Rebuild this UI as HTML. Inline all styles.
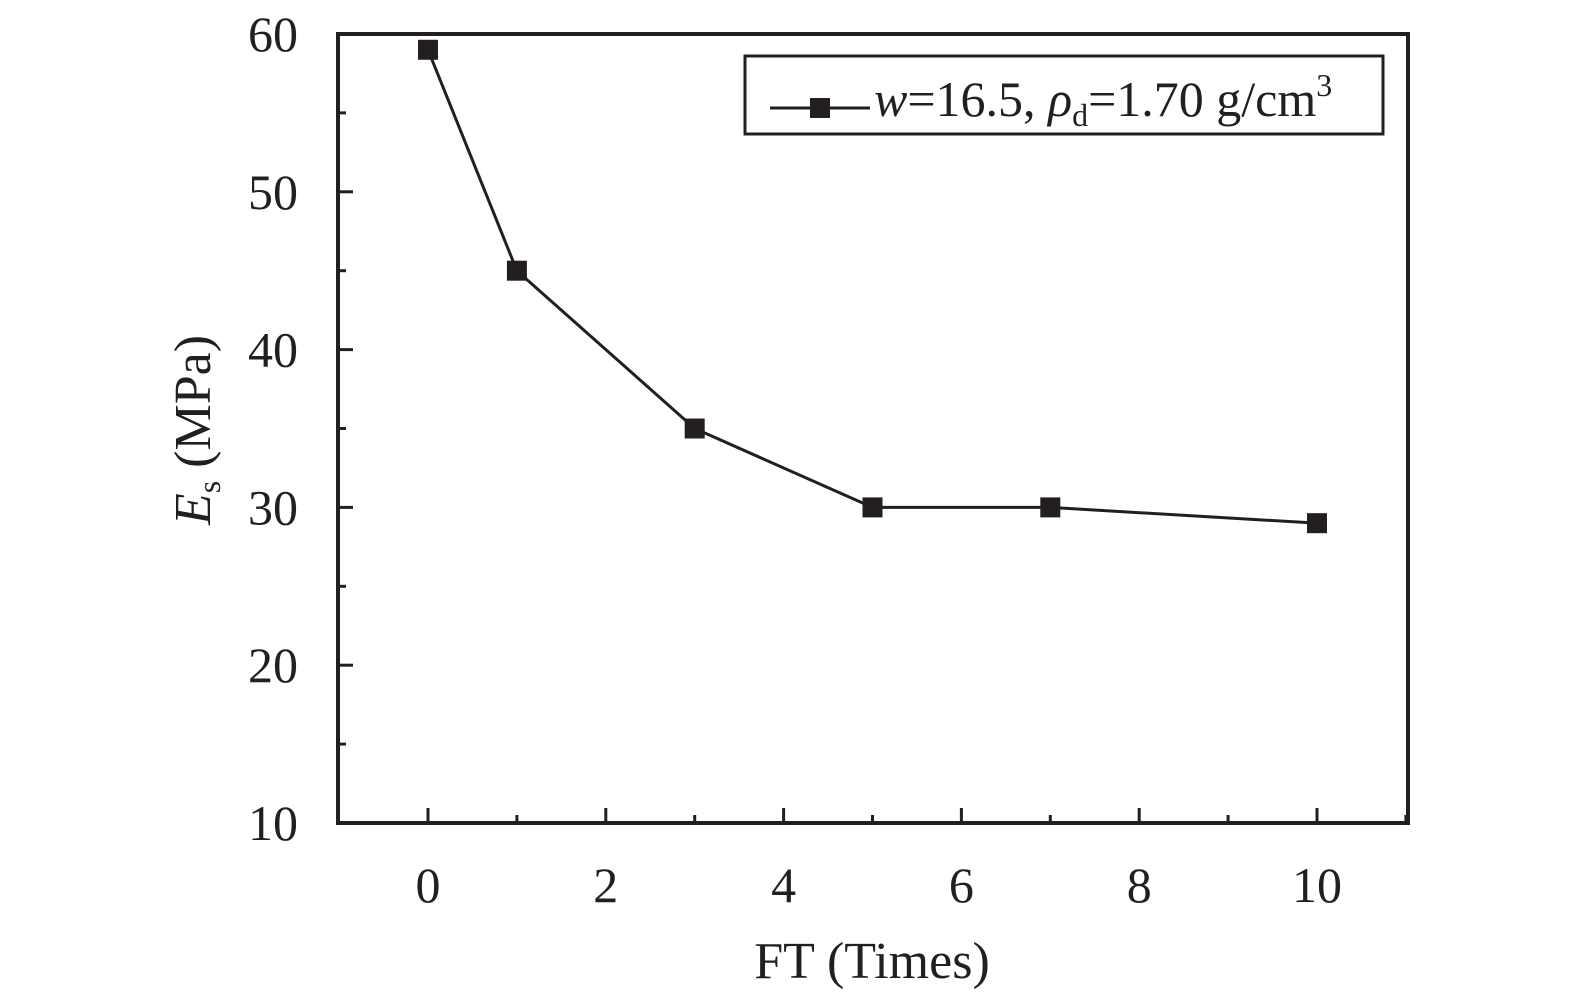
<!DOCTYPE html>
<html><head><meta charset="utf-8"><style>
body{margin:0;background:#fff}
svg{display:block;font-family:"Liberation Serif",serif;fill:#231f20}
</style></head><body>
<svg id="c" width="1576" height="1000" viewBox="0 0 1576 1000">
<g id="g"></g>
</svg>
<script>
const xCats=[0,1,3,5,7,10];
const yVals=[59,45,35,30,30,29];
const xTicks=[0,2,4,6,8,10];
const yTicks=[10,20,30,40,50,60];
const L=338,R=1408,T=34,B=823;
const X=v=>428+(v-0)*88.9;
const Y=v=>B-(v-10)*(B-T)/50;
const ns='http://www.w3.org/2000/svg',g=document.getElementById('g');
function el(t,a,txt){const e=document.createElementNS(ns,t);for(const k in a)e.setAttribute(k,a[k]);if(txt!=null)e.textContent=txt;g.appendChild(e);return e;}
const col='#231f20';
for(let v=0;v<=11;v++){const maj=v%2===0;const e=el('line',{x1:X(v),x2:X(v),y1:B,y2:B-(maj?15:8),stroke:col,'stroke-width':3});
}
for(let v=10;v<=60;v+=5){const maj=v%10===0;const e=el('line',{x1:L,x2:L+(maj?15:8),y1:Y(v),y2:Y(v),stroke:col,'stroke-width':3});
}
xTicks.forEach(v=>{const e=el('text',{x:X(v),y:902,'font-size':50,'text-anchor':'middle'},v);
});
yTicks.forEach(v=>{const e=el('text',{x:298,y:Y(v)+17,'font-size':50,'text-anchor':'end'},v);
});
const fr=el('rect',{x:L,y:T,width:R-L,height:B-T,fill:'none',stroke:col,'stroke-width':4});

const pl=el('polyline',{points:xCats.map((c,i)=>X(c)+','+Y(yVals[i])).join(' '),fill:'none',stroke:col,'stroke-width':3});

xCats.forEach((c,i)=>{const e=el('rect',{x:X(c)-10,y:Y(yVals[i])-10,width:20,height:20,fill:col});
});
const lb=el('rect',{x:745,y:56,width:638,height:78,fill:'none',stroke:col,'stroke-width':3});

const ll=el('line',{x1:770,x2:870,y1:108,y2:108,stroke:col,'stroke-width':3});

const lm=el('rect',{x:810,y:98,width:20,height:20,fill:col});

const lt=el('text',{x:874,y:116,'font-size':50});
lt.innerHTML='<tspan font-style="italic">w</tspan>=16.5, <tspan font-style="italic">ρ</tspan><tspan font-size="32" dy="10">d</tspan><tspan dy="-10">=1.70 g/cm</tspan><tspan font-size="32" dy="-20">3</tspan>';

const xt=el('text',{x:872,y:978,'font-size':52,'text-anchor':'middle'},'FT (Times)');

const yt=el('text',{transform:'translate(210,430) rotate(-90)','font-size':52,'text-anchor':'middle'});
yt.innerHTML='<tspan font-style="italic">E</tspan><tspan font-size="32" dy="10">s</tspan><tspan dy="-10"> (MPa)</tspan>';

</script>
</body></html>
